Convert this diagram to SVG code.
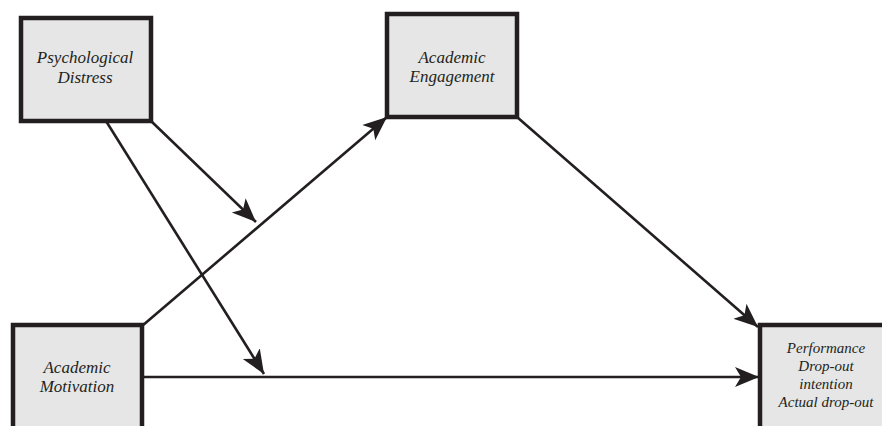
<svg xmlns="http://www.w3.org/2000/svg" width="882" height="426" viewBox="0 0 882 426">
<style>
.box{fill:#e6e6e6;stroke:#231f20;stroke-width:4.5}
.lbl{font-family:"Liberation Serif",serif;font-style:italic;font-size:17px;fill:#231f20;text-anchor:middle}
.sm{font-size:15px}
.edge{stroke:#231f20;stroke-width:2.6;fill:none;marker-end:url(#ah)}
</style>
<defs>
<marker id="ah" markerUnits="userSpaceOnUse" markerWidth="26" markerHeight="22" viewBox="0 0 26 22" refX="24" refY="11" orient="auto">
<path d="M0,1 L24,11 L0,21 L6,11 Z" fill="#231f20"/>
</marker>
</defs>
<rect width="882" height="426" fill="#ffffff"/>
<g id="connectors">
<line class="edge" x1="151" y1="121" x2="256" y2="222"/>
<line class="edge" x1="106" y1="121" x2="264" y2="374"/>
<line class="edge" x1="142" y1="326" x2="387" y2="117"/>
<line class="edge" x1="517" y1="117" x2="758" y2="327"/>
<line class="edge" x1="142" y1="377" x2="759" y2="377"/>
</g>
<g id="psych">
<rect class="box" x="21" y="18" width="130" height="103"/>
<text class="lbl" x="85" y="63">Psychological</text>
<text class="lbl" x="85" y="83">Distress</text>
</g>
<g id="engagement">
<rect class="box" x="387" y="14" width="130" height="103"/>
<text class="lbl" x="452" y="63">Academic</text>
<text class="lbl" x="452" y="82">Engagement</text>
</g>
<g id="motivation">
<rect class="box" x="13" y="325" width="129" height="115"/>
<text class="lbl" x="77" y="373">Academic</text>
<text class="lbl" x="77" y="392">Motivation</text>
</g>
<g id="outcomes">
<rect class="box" x="760" y="325" width="140" height="115"/>
<text class="lbl sm" x="826" y="353">Performance</text>
<text class="lbl sm" x="826" y="371">Drop-out</text>
<text class="lbl sm" x="826" y="389">intention</text>
<text class="lbl sm" x="826" y="407">Actual drop-out</text>
</g>
</svg>
